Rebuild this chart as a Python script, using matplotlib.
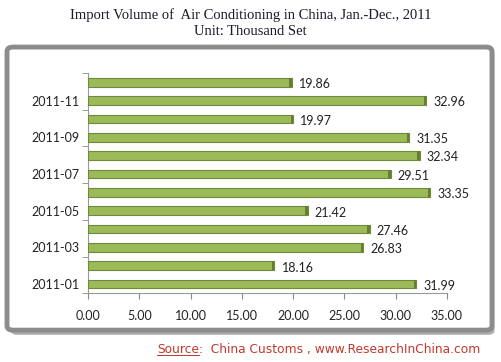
import numpy as np
import matplotlib
matplotlib.use("Agg")
import matplotlib.pyplot as plt
from matplotlib.patches import FancyBboxPatch

# data, Jan -> Dec 2011
months = ["2011-01", "2011-02", "2011-03", "2011-04", "2011-05", "2011-06",
          "2011-07", "2011-08", "2011-09", "2011-10", "2011-11", "2011-12"]
volume = [31.99, 18.16, 26.83, 27.46, 21.42, 33.35,
          29.51, 32.34, 31.35, 19.97, 32.96, 19.86]
x_ticks = [0, 5, 10, 15, 20, 25, 30, 35]

title = "Import Volume of  Air Conditioning in China, Jan.-Dec., 2011"
subtitle = "Unit: Thousand Set"

fig = plt.figure(figsize=(5.01, 3.62), dpi=100)
fig.patch.set_facecolor("white")

# frame with shadow
shadow = FancyBboxPatch((0.022, 0.075), 0.965, 0.79, boxstyle="round,pad=0,rounding_size=0.012",
                        transform=fig.transFigure, facecolor="#b0b0b0", edgecolor="none", zorder=0)
frame = FancyBboxPatch((0.014, 0.088), 0.968, 0.782, boxstyle="round,pad=0,rounding_size=0.012",
                       transform=fig.transFigure, facecolor="white", edgecolor="#8c8c8c",
                       linewidth=3.5, zorder=0.5)
fig.patches.extend([shadow, frame])

ax = fig.add_axes([0.176, 0.19, 0.716, 0.608])
ax.set_zorder(2)
ax.set_facecolor("none")
pos = np.arange(len(months))
ax.barh(pos, volume, height=0.48, color="#9bbb59", edgecolor="#71893f", linewidth=0.8, zorder=3)
# darker end caps for the 3d look
ax.barh(pos, [0.22] * len(pos), left=np.array(volume) - 0.22, height=0.48,
        color="#647f30", edgecolor="none", zorder=4)

for y, v in zip(pos, volume):
    ax.text(v + 0.7, y - 0.1, f"{v:.2f}", va="center", ha="left", fontsize=9,
            family="Lato", color="#222222")

ax.set_xlim(0, 35)
ax.set_ylim(-0.5, 11.5)
ax.set_xticks(x_ticks)
ax.set_xticklabels([f"{t:.2f}" for t in x_ticks], fontsize=9, family="Lato", color="#222222")
ax.set_yticks(pos[::2])
ax.set_yticklabels(months[::2], fontsize=9, family="Lato", color="#222222")
ax.set_yticks(np.arange(-0.5, 12, 2), minor=True)
ax.tick_params(axis="y", which="major", length=0, pad=6)
ax.tick_params(axis="y", which="minor", length=4, color="#888888", direction="out")
ax.tick_params(axis="x", length=4, color="#888888", pad=8)
for s in ["top", "right"]:
    ax.spines[s].set_visible(False)
for s in ["left", "bottom"]:
    ax.spines[s].set_color("#999999")
    ax.spines[s].set_linewidth(0.8)

fig.text(0.5, 0.958, title, ha="center", va="center", fontsize=10.5, family="Liberation Serif", color="#1a1a2a")
fig.text(0.5, 0.912, subtitle, ha="center", va="center", fontsize=10.5, family="Liberation Serif", color="#1a1a2a")

# source line, "Source" underlined
src = fig.text(0.313, 0.035, "Source", ha="left", va="center", fontsize=8.8, family="DejaVu Sans", color="#c0392b")
fig.canvas.draw()
bb = src.get_window_extent().transformed(fig.transFigure.inverted())
fig.text(bb.x1, 0.035, ":  China Customs , www.ResearchInChina.com", ha="left", va="center", fontsize=8.8,
         family="DejaVu Sans", color="#c0392b")
fig.add_artist(plt.Line2D([bb.x0, bb.x1], [bb.y0 + 0.002, bb.y0 + 0.002], transform=fig.transFigure,
                          color="#c0392b", linewidth=0.7))

fig.savefig("out.png", dpi=100)
